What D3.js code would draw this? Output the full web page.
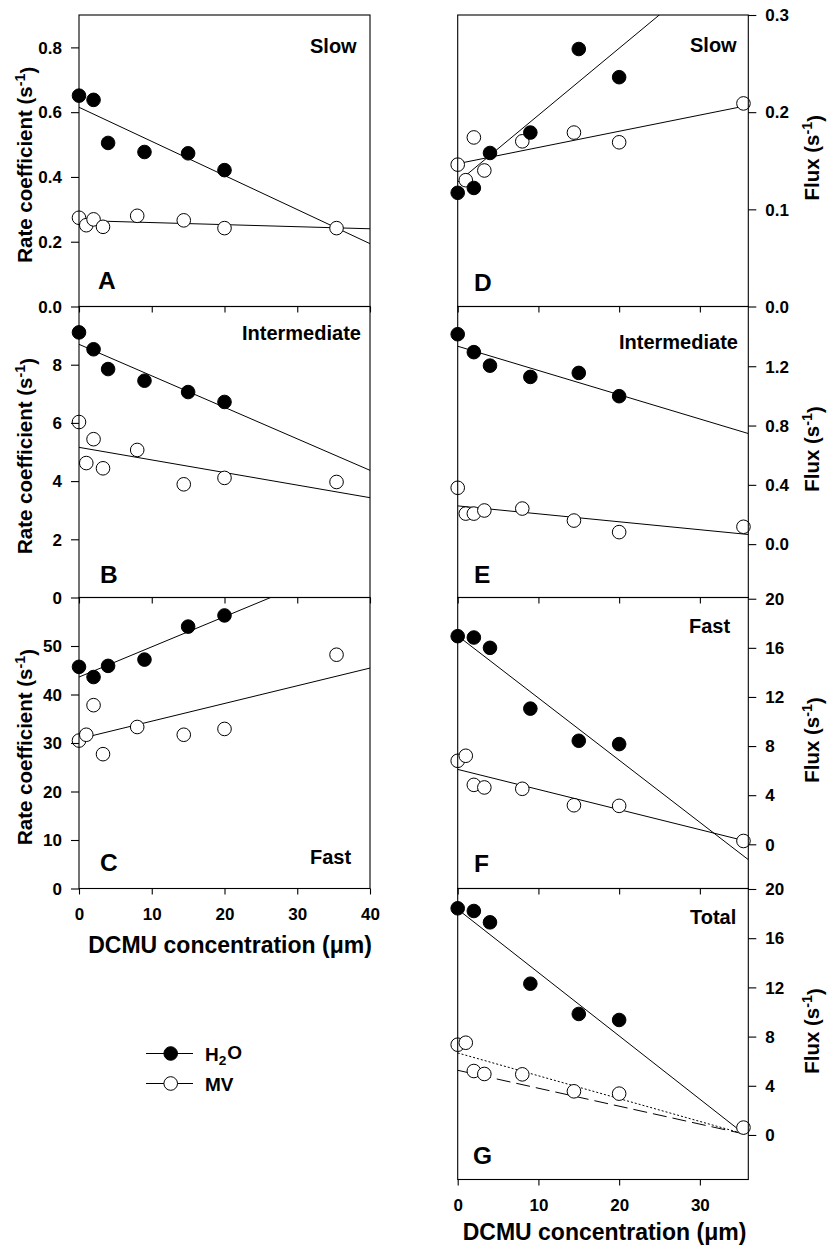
<!DOCTYPE html>
<html><head><meta charset="utf-8">
<script src="https://cdn.jsdelivr.net/npm/d3@7"></script>
<style>
body{margin:0;background:#fff}
text{font-family:"Liberation Sans",Arial,Helvetica,sans-serif;font-weight:bold;fill:#000}
</style>
</head><body>
<svg id="chart" width="827" height="1247"></svg>
<script>
// ---------------- DATA ----------------
const doseH2O = [0, 2, 4, 9, 15, 20];
const doseMV  = [0, 1, 2, 3.3, 8, 14.4, 20, 35.4];

const panelLetters = ["A", "B", "C", "D", "E", "F", "G"];
const panelNames   = ["Slow", "Intermediate", "Fast", "Slow", "Intermediate", "Fast", "Total"];

// Rate coefficients (s-1), left column
const slowRateH2O  = [0.651, 0.638, 0.505, 0.477, 0.473, 0.421];
const slowRateMV   = [0.274, 0.251, 0.269, 0.246, 0.280, 0.266, 0.242, 0.242];
const interRateH2O = [9.11, 8.53, 7.85, 7.45, 7.06, 6.72];
const interRateMV  = [6.03, 4.62, 5.44, 4.44, 5.07, 3.89, 4.11, 3.97];
const fastRateH2O  = [45.7, 43.6, 45.9, 47.2, 54.0, 56.3];
const fastRateMV   = [30.5, 31.7, 37.8, 27.7, 33.3, 31.7, 32.9, 48.2];

// Flux (s-1), right column
const slowFluxH2O  = [0.117, 0.122, 0.158, 0.179, 0.265, 0.236];
const slowFluxMV   = [0.146, 0.130, 0.174, 0.140, 0.170, 0.179, 0.169, 0.209];
const interFluxH2O = [1.416, 1.295, 1.204, 1.128, 1.155, 0.998];
const interFluxMV  = [0.380, 0.206, 0.206, 0.227, 0.240, 0.159, 0.081, 0.117];
const fastFluxH2O  = [16.95, 16.84, 16.0, 11.05, 8.43, 8.16];
const fastFluxMV   = [6.80, 7.21, 4.84, 4.63, 4.52, 3.18, 3.13, 0.27];
const totalFluxH2O = [18.43, 18.21, 17.29, 12.30, 9.84, 9.35];
const totalFluxMV  = [7.34, 7.50, 5.20, 4.96, 4.93, 3.55, 3.36, 0.60];

// Regression lines: [dose, value] end points
const slowRateFitH2O  = [[0, 0.615], [40, 0.194]];
const slowRateFitMV   = [[0, 0.2655], [40, 0.240]];
const interRateFitH2O = [[0, 8.70], [40, 4.37]];
const interRateFitMV  = [[0, 5.16], [40, 3.43]];
const fastRateFitH2O  = [[0, 43.6], [40, 68.5]];
const fastRateFitMV   = [[0, 30.85], [40, 45.45]];
const slowFluxFitH2O  = [[0, 0.128], [36, 0.376]];
const slowFluxFitMV   = [[0, 0.147], [35.4, 0.206]];
const interFluxFitH2O = [[0, 1.335], [36, 0.746]];
const interFluxFitMV  = [[0, 0.258], [36, 0.065]];
const fastFluxFitH2O  = [[0, 16.98], [36, -1.25]];
const fastFluxFitMV   = [[0, 6.10], [35.4, 0.31]];
const totalFluxFitH2O = [[0, 18.35], [35.5, 0.08]];
const totalFluxFitDotted = [[0, 6.67], [35.5, 0.08]];
const totalFluxFitDashed = [[0, 5.26], [35.5, 0.08]];

// Tick values
const rateTicksA = [0, 0.2, 0.4, 0.6, 0.8];
const rateTicksB = [0, 2, 4, 6, 8];
const rateTicksC = [0, 10, 20, 30, 40, 50];
const fluxTicksD = [0, 0.1, 0.2, 0.3];
const fluxTicksE = [0, 0.4, 0.8, 1.2];
const fluxTicksF = [0, 4, 8, 12, 16, 20];
const fluxTicksG = [0, 4, 8, 12, 16, 20];
const doseTicksLeft  = [0, 10, 20, 30, 40];
const doseTicksRight = [0, 10, 20, 30];

const legendLabels = ["H2O", "MV"];

// ---------------- LAYOUT ----------------
const svg = d3.select("#chart");
const rows = [15, 306.5, 597.5, 888.5, 1179.5];
const leftX = [79, 370], rightX = [457.7, 748.3];
const FS_TICK = 17, FS_TITLE = 20.5;

const panels = [
  {i:0, side:"L", row:0, xd:[0,40], yd:[0,0.9], yt:rateTicksA, fmt:d3.format(".1f"),
   h2o:slowRateH2O, mv:slowRateMV, fits:[[slowRateFitH2O,null],[slowRateFitMV,null]], name:[310,53], letter:[98,289], xlab:false},
  {i:1, side:"L", row:1, xd:[0,40], yd:[0,10], yt:rateTicksB, fmt:d3.format("d"),
   h2o:interRateH2O, mv:interRateMV, fits:[[interRateFitH2O,null],[interRateFitMV,null]], name:[242,339.5], letter:[100,583], xlab:false},
  {i:2, side:"L", row:2, xd:[0,40], yd:[0,60], yt:rateTicksC, fmt:d3.format("d"),
   h2o:fastRateH2O, mv:fastRateMV, fits:[[fastRateFitH2O,null],[fastRateFitMV,null]], name:[310,864], letter:[100,871], xlab:true},
  {i:3, side:"R", row:0, xd:[0,36], yd:[0,0.3], yt:fluxTicksD, fmt:d3.format(".1f"),
   h2o:slowFluxH2O, mv:slowFluxMV, fits:[[slowFluxFitH2O,null],[slowFluxFitMV,null]], name:[690,52], letter:[474,291], xlab:false},
  {i:4, side:"R", row:1, xd:[0,36], yd:[-0.36,1.603], yt:fluxTicksE, fmt:d3.format(".1f"),
   h2o:interFluxH2O, mv:interFluxMV, fits:[[interFluxFitH2O,null],[interFluxFitMV,null]], name:[619,348.5], letter:[474,582.5], xlab:false},
  {i:5, side:"R", row:2, xd:[0,36], yd:[-3.6,20.1], yt:fluxTicksF, fmt:d3.format("d"),
   h2o:fastFluxH2O, mv:fastFluxMV, fits:[[fastFluxFitH2O,null],[fastFluxFitMV,null]], name:[689,632.5], letter:[474,872], xlab:false},
  {i:6, side:"R", row:3, xd:[0,36], yd:[-3.62,20.04], yt:fluxTicksG, fmt:d3.format("d"),
   h2o:totalFluxH2O, mv:totalFluxMV, fits:[[totalFluxFitH2O,null],[totalFluxFitDotted,"2,2"],[totalFluxFitDashed,"14,6"]], name:[690,923.5], letter:[473,1164], xlab:true}
];

const R = 6.8;

panels.forEach(p => {
  const xr = p.side === "L" ? leftX : rightX;
  const y0 = rows[p.row], y1 = rows[p.row + 1];
  const x = d3.scaleLinear().domain(p.xd).range(xr);
  const y = d3.scaleLinear().domain(p.yd).range([y1, y0]);
  const g = svg.append("g");

  const clipId = "clip" + p.i;
  svg.append("clipPath").attr("id", clipId).append("rect")
    .attr("x", xr[0]).attr("y", y0).attr("width", xr[1] - xr[0]).attr("height", y1 - y0);

  // fits
  const line = d3.line().x(d => x(d[0])).y(d => y(d[1]));
  p.fits.forEach(([pts, dash]) => {
    g.append("path").attr("d", line(pts)).attr("clip-path", `url(#${clipId})`)
      .attr("fill", "none").attr("stroke", "#000").attr("stroke-width", 1)
      .attr("stroke-dasharray", dash);
  });

  // points MV (open) then H2O (filled)
  g.selectAll(".mv").data(p.mv).join("circle")
    .attr("cx", (d, k) => x(doseMV[k])).attr("cy", d => y(d)).attr("r", R)
    .attr("fill", "#fff").attr("stroke", "#000").attr("stroke-width", 1);
  g.selectAll(".h2o").data(p.h2o).join("circle")
    .attr("cx", (d, k) => x(doseH2O[k])).attr("cy", d => y(d)).attr("r", R)
    .attr("fill", "#000").attr("stroke", "#000").attr("stroke-width", 1);

  // frame
  g.append("rect").attr("x", xr[0]).attr("y", y0).attr("width", xr[1] - xr[0]).attr("height", y1 - y0)
    .attr("fill", "none").attr("stroke", "#000").attr("stroke-width", 1.1);

  // y axis
  const yAxis = (p.side === "L" ? d3.axisLeft(y) : d3.axisRight(y))
    .tickValues(p.yt).tickFormat(p.fmt).tickSize(8).tickPadding(9);
  const ya = g.append("g").attr("transform", `translate(${p.side === "L" ? xr[0] : xr[1]},0)`).call(yAxis);
  ya.select(".domain").remove();
  ya.selectAll("line").attr("stroke", "#000").attr("stroke-width", 1.1);
  ya.selectAll("text").attr("font-size", FS_TICK).attr("font-family", null).attr("dy", "0.34em");

  // x axis
  const xAxis = d3.axisBottom(x).tickValues(p.side === "L" ? doseTicksLeft : doseTicksRight)
    .tickSize(6).tickPadding(13.4).tickFormat(p.xlab ? d3.format("d") : "");
  const xa = g.append("g").attr("transform", `translate(0,${y1})`).call(xAxis);
  xa.select(".domain").remove();
  xa.selectAll("line").attr("stroke", "#000").attr("stroke-width", 1.1);
  xa.selectAll("text").attr("font-size", FS_TICK).attr("font-family", null);

  // panel name & letter
  g.append("text").attr("x", p.name[0]).attr("y", p.name[1]).attr("font-size", 20).text(panelNames[p.i]);
  g.append("text").attr("x", p.letter[0]).attr("y", p.letter[1]).attr("font-size", 24.5).text(panelLetters[p.i]);

  // y title
  const cy = (y0 + y1) / 2;
  const tx = p.side === "L" ? 32 : 819;
  const tcy = p.side === "L" ? cy + 4 : cy - 3;
  const t = g.append("text").attr("transform", `translate(${tx},${tcy}) rotate(-90)`)
    .attr("text-anchor", "middle").attr("font-size", FS_TITLE);
  t.append("tspan").text(p.side === "L" ? "Rate coefficient (s" : "Flux (s");
  t.append("tspan").attr("font-size", "70%").attr("dy", "-0.5em").text("-1");
  t.append("tspan").attr("dy", "0.5em").text(")");

  if (p.xlab) {
    g.append("text").attr("x", p.side === "L" ? 230 : 604.5).attr("y", p.side === "L" ? 953 : 1240)
      .attr("text-anchor", "middle").attr("font-size", 23).text("DCMU concentration (\u03bcm)");
  }
});

// ---------------- LEGEND ----------------
const legY = [1053.5, 1083.5];
legendLabels.forEach((lab, k) => {
  const g = svg.append("g");
  g.append("line").attr("x1", 146).attr("x2", 193).attr("y1", legY[k]).attr("y2", legY[k])
    .attr("stroke", "#000").attr("stroke-width", 1.1);
  g.append("circle").attr("cx", 170.7).attr("cy", legY[k]).attr("r", R)
    .attr("fill", k === 0 ? "#000" : "#fff").attr("stroke", "#000");
  const t = g.append("text").attr("x", 205).attr("y", legY[k] + 7).attr("font-size", 19);
  if (lab === "H2O") {
    t.append("tspan").text("H");
    t.append("tspan").attr("font-size", "72%").attr("dy", "0.35em").text("2");
    t.append("tspan").attr("dy", "-0.35em").attr("dx", "1").text("O");
  } else {
    t.text(lab);
  }
});
</script>
</body></html>
